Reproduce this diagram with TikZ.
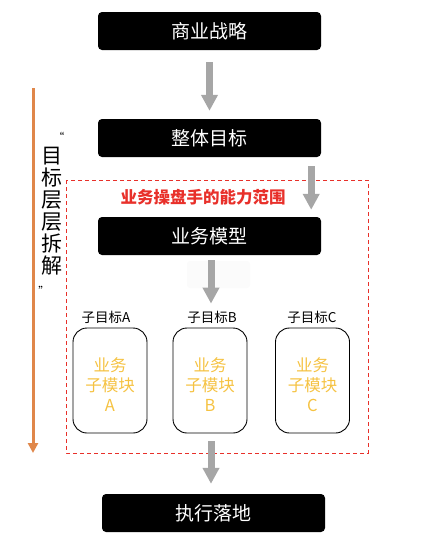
\documentclass[tikz,border=0pt]{standalone}
\usepackage{fontspec}
\usetikzlibrary{positioning,arrows.meta,calc}
\newfontfamily\cjk{Noto Sans CJK SC}
\definecolor{stepgray}{HTML}{A6A6A6}
\definecolor{subyellow}{HTML}{F5C242}
\definecolor{rangered}{HTML}{E8302A}
\definecolor{splitorange}{HTML}{E0874A}
\newcommand\fs[2]{\fontsize{#1}{#2}\selectfont}
\tikzset{
  blackbox/.style={fill=black, rounded corners=4pt, minimum width=223pt, minimum height=38pt,
    inner sep=0pt, text=white, font=\cjk\fs{19}{22}},
  subbox/.style={draw=black, line width=0.9pt, rounded corners=14pt, minimum width=74pt,
    minimum height=105pt, inner sep=0pt},
  subtext/.style={text=subyellow, font=\cjk\fs{16.5}{20}, align=center, inner sep=0pt},
  sublabel/.style={font=\cjk\fs{13.5}{15}, inner sep=0pt},
  grayarrow/.style={draw=stepgray, line width=7pt, -{Triangle[width=16pt,length=16pt]}},
}

\begin{document}
\begin{tikzpicture}[x=1pt, y=-1pt]
      \useasboundingbox (0,0) rectangle (437,549);

      \node[blackbox] (strategy) at (209.5, 31) {商业战略};
      \node[blackbox] (goal) at (209.5, 138) {整体目标};
      \node[blackbox] (model) at (209.5, 236) {业务模型};
      \node[blackbox] (exec) at (213.5, 513) {执行落地};

      % range of the operator
      \draw [rangered, line width=0.8pt, dash pattern=on 4pt off 3pt] (66, 180) rectangle (368, 453);
      \node[font=\cjk\bfseries\fs{16.5}{18}, text=rangered, inner sep=0pt] (range) at (203, 197) {业务操盘手的能力范围};

      \node[sublabel] (labA) at (106, 317) {子目标A};
      \node[sublabel] (labB) at (212, 317) {子目标B};
      \node[sublabel] (labC) at (312, 317) {子目标C};

      \node[subbox] (subA) at (110, 380.5) {};
      \node[subbox] (subB) at (210, 380.5) {};
      \node[subbox] (subC) at (312.5, 380.5) {};
      \node[subtext] (textA) at ([yshift=-4.5pt]subA.center) {业务\\子模块\\A};
      \node[subtext] (textB) at ([yshift=-4.5pt]subB.center) {业务\\子模块\\B};
      \node[subtext] (textC) at ([yshift=-4.5pt]subC.center) {业务\\子模块\\C};

      \fill [gray!3, rounded corners=3pt] (187, 261) rectangle (250, 288);
      \draw [grayarrow, shorten <=12pt, shorten >=8pt] (strategy) -- (goal);
      \draw [grayarrow, shorten <=9pt, shorten >=7pt] ([xshift=-10pt]goal.south east) -- ([xshift=-10pt]model.north east);
      \draw [grayarrow, shorten <=5pt, shorten >=7pt] ([xshift=1.5pt]model.south) -- ([xshift=1.5pt]model.south |- labB.north);
      \draw [grayarrow, shorten <=8pt, shorten >=10pt] ([xshift=1pt]subB.south) -- ([xshift=1pt]subB.south |- exec.north);

      % goals split level by level
      \coordinate (splittop) at (33, 88);
      \coordinate (splitend) at (33, 453);
      \draw [splitorange, line width=3pt, -{Triangle[width=10pt,length=10pt]}] (splittop) -- (splitend);
      \node[font=\cjk\fs{21}{22}, align=center, inner sep=0pt] (split) at (52, 214)
        {\makebox[0pt]{\hspace{14pt}{\fs{11}{22}“}}\\目\\标\\层\\层\\拆\\解\\\makebox[0pt]{{\fs{11}{22}”}\hspace{16pt}}};
    \end{tikzpicture}
\end{document}
